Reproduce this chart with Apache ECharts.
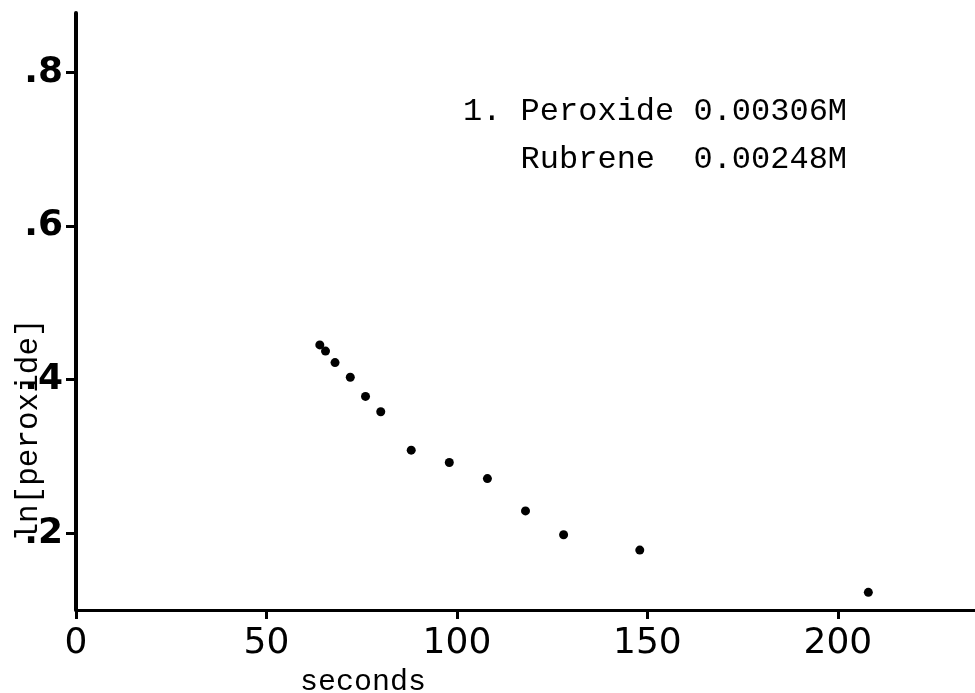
<!DOCTYPE html>
<html>
<head>
<meta charset="utf-8">
<title>ln[peroxide] vs seconds</title>
<script src="https://cdn.jsdelivr.net/npm/echarts@6/dist/echarts.min.js"></script>
<style>
    html, body { margin: 0; padding: 0; background: #fff; }
    #main { width: 975px; height: 693px; }
</style>
</head>
<body>
<div id="main"></div>
<script>
// readings (time in seconds, ln[peroxide])
var seconds = [64, 65.5, 68, 72, 76, 80, 88, 98, 108, 118, 128, 148, 208];
var lnPeroxide = [0.445, 0.437, 0.422, 0.403, 0.378, 0.358, 0.308, 0.292, 0.271, 0.229, 0.198, 0.178, 0.123];

var xTicks = [0, 50, 100, 150, 200];
var yTicks = [0.2, 0.4, 0.6, 0.8];

var noteLines = ['1. Peroxide 0.00306M', '   Rubrene  0.00248M'];

var myChart = echarts.init(document.getElementById('main'));

var points = seconds.map(function (s, i) {
    return [s, lnPeroxide[i]];
});

var typeFont = '"Liberation Mono", "DejaVu Sans Mono", monospace';
var letterFont = '"DejaVu Sans", sans-serif';

var option = {
    backgroundColor: '#fff',
    animation: false,
    grid: {
        left: 76,
        right: 0,
        top: 13,
        bottom: 83
    },
    xAxis: {
        type: 'value',
        min: 0,
        max: 236,
        splitLine: { show: false },
        axisLine: { lineStyle: { color: '#000', width: 3 } },
        axisTick: {
            customValues: xTicks,
            length: 9,
            lineStyle: { color: '#000', width: 3 }
        },
        axisLabel: {
            customValues: xTicks,
            margin: 16,
            color: '#000',
            fontSize: 36,
            fontFamily: letterFont
        }
    },
    yAxis: {
        type: 'value',
        min: 0.1,
        max: 0.877,
        splitLine: { show: false },
        axisLine: { lineStyle: { color: '#000', width: 4 } },
        axisTick: {
            customValues: yTicks,
            length: 10,
            lineStyle: { color: '#000', width: 3 }
        },
        axisLabel: {
            customValues: yTicks,
            margin: 13,
            color: '#000',
            fontSize: 36,
            fontWeight: 'bold',
            fontFamily: letterFont,
            formatter: function (v) {
                return String(Math.round(v * 10) / 10).replace(/^0/, '');
            }
        }
    },
    graphic: [
        {
            type: 'text',
            left: 463,
            top: 88,
            style: {
                text: noteLines.join('\n'),
                font: '32px ' + typeFont,
                lineHeight: 48,
                fill: '#000'
            }
        },
        {
            type: 'text',
            x: 29,
            y: 430,
            rotation: Math.PI / 2,
            style: {
                text: 'ln[peroxide]',
                font: '31px ' + typeFont,
                fill: '#000',
                align: 'center',
                verticalAlign: 'middle'
            }
        },
        {
            type: 'text',
            x: 363,
            y: 682,
            style: {
                text: 'seconds',
                font: '30px ' + typeFont,
                fill: '#000',
                align: 'center',
                verticalAlign: 'middle'
            }
        }
    ],
    series: [
        {
            type: 'scatter',
            data: points,
            symbol: 'circle',
            symbolSize: 9,
            itemStyle: { color: '#000', opacity: 1 }
        }
    ]
};

option && myChart.setOption(option);
</script>
</body>
</html>
